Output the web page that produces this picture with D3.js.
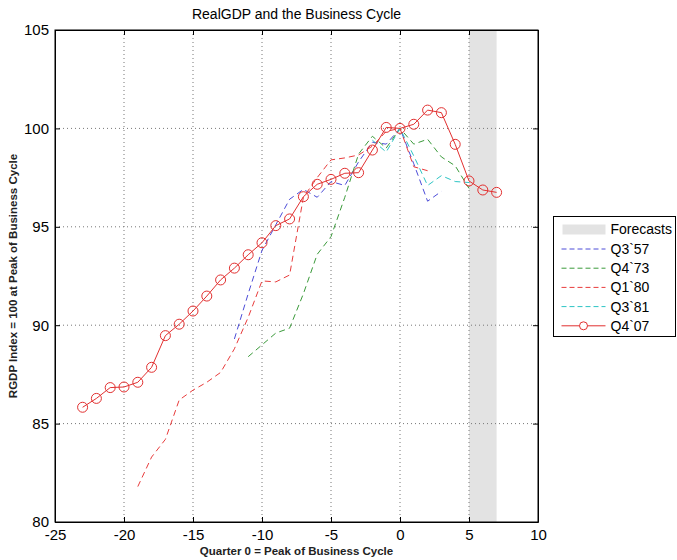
<!DOCTYPE html>
<html>
<head>
<meta charset="utf-8">
<script src="https://cdn.jsdelivr.net/npm/d3@7"></script>
<style>
body { margin: 0; background: #fff; }
text { font-family: "Liberation Sans", Arial, sans-serif; }
</style>
</head>
<body>
<div id="chart-svg"></div>
<script>
// quarters relative to business cycle peak
var q357 = [-12, -11, -10, -9, -8, -7, -6, -5, -4, -3, -2, -1, 0, 1, 2, 3];
var v357 = [89.3, 91.6, 93.8, 95.1, 96.4, 96.9, 96.5, 97.3, 97.1, 98.3, 99.3, 99.2, 100, 98.2, 96.3, 96.8];

var q473 = [-11, -10, -9, -8, -7, -6, -5, -4, -3, -2, -1, 0, 1, 2, 3, 4, 5];
var v473 = [88.4, 89.0, 89.6, 89.85, 91.6, 93.6, 94.5, 96.5, 98.7, 99.6, 99.0, 100, 99.2, 99.45, 98.55, 98.1, 96.95];

var q180 = [-19, -18, -17, -16, -15, -14, -13, -12, -11, -10, -9, -8, -7, -6, -5, -4, -3, -2, -1, 0, 1, 2];
var v180 = [81.8, 83.3, 84.2, 86.2, 86.7, 87.1, 87.6, 88.8, 90.4, 92.25, 92.2, 92.55, 96.5, 97.5, 98.4, 98.5, 98.65, 99.1, 99.85, 100, 98.05, 97.85];

var q381 = [-2, -1, 0, 1, 2, 3, 4, 5];
var v381 = [99.4, 98.8, 100, 98.6, 97.1, 97.6, 97.3, 97.25];

var q407 = [-23, -22, -21, -20, -19, -18, -17, -16, -15, -14, -13, -12, -11, -10, -9, -8, -7, -6, -5, -4, -3, -2, -1, 0, 1, 2, 3, 4, 5, 6, 7];
var v407 = [85.83, 86.28, 86.83, 86.86, 87.1, 87.86, 89.47, 90.05, 90.72, 91.48, 92.3, 92.9, 93.58, 94.19, 95.06, 95.4, 96.53, 97.16, 97.41, 97.72, 97.75, 98.9, 100.05, 100, 100.21, 100.93, 100.8, 99.19, 97.33, 96.87, 96.75];

var forecast = [5, 7];
var xTicks = [-25, -20, -15, -10, -5, 0, 5, 10];
var yTicks = [80, 85, 90, 95, 100, 105];

var series = [
    {name: "Q3`57", q: q357, v: v357, color: "#4c4cd8", dash: true},
    {name: "Q4`73", q: q473, v: v473, color: "#3a9a3a", dash: true},
    {name: "Q1`80", q: q180, v: v180, color: "#e83c3c", dash: true},
    {name: "Q3`81", q: q381, v: v381, color: "#2cc4c4", dash: true},
    {name: "Q4`07", q: q407, v: v407, color: "#e23030", dash: false}
];

var margin = {top: 30, right: 139, bottom: 38, left: 55},
    width = 677 - margin.left - margin.right,
    height = 560 - margin.top - margin.bottom;

var svg = d3.select("#chart-svg").append("svg")
    .attr("width", 677)
    .attr("height", 560)
    .append("g")
    .attr("transform", "translate(" + margin.left + "," + margin.top + ")");

var x = d3.scaleLinear().domain([-25, 10]).range([0, width]);
var y = d3.scaleLinear().domain([80, 105]).range([height, 0]);

// plain hyphen minus like the original
var fmt = function(d) { return String(d); };

// forecast band
svg.append("rect")
    .attr("x", x(forecast[0]))
    .attr("y", 0)
    .attr("width", x(forecast[1]) - x(forecast[0]))
    .attr("height", height)
    .style("fill", "#e3e3e3");

// grid
svg.selectAll(".xgrid")
    .data(xTicks.slice(1, -1))
    .enter().append("line")
    .attr("class", "xgrid")
    .attr("x1", function(d) { return x(d); })
    .attr("x2", function(d) { return x(d); })
    .attr("y1", 0)
    .attr("y2", height)
    .style("stroke", "#777")
    .style("stroke-width", 1)
    .style("stroke-dasharray", "1,3");

svg.selectAll(".ygrid")
    .data(yTicks.slice(1, -1))
    .enter().append("line")
    .attr("class", "ygrid")
    .attr("x1", 0)
    .attr("x2", width)
    .attr("y1", function(d) { return y(d); })
    .attr("y2", function(d) { return y(d); })
    .style("stroke", "#777")
    .style("stroke-width", 1)
    .style("stroke-dasharray", "1,3");

// lines
var line = d3.line()
    .x(function(d) { return x(d[0]); })
    .y(function(d) { return y(d[1]); });

series.forEach(function(s) {
    var pts = s.q.map(function(q, i) { return [q, s.v[i]]; });
    svg.append("path")
        .datum(pts)
        .attr("d", line)
        .style("fill", "none")
        .style("stroke", s.color)
        .style("stroke-width", 1)
        .style("stroke-dasharray", s.dash ? "6,4" : null);
    if (!s.dash) {
        svg.selectAll(".mark")
            .data(pts)
            .enter().append("circle")
            .attr("cx", function(d) { return x(d[0]); })
            .attr("cy", function(d) { return y(d[1]); })
            .attr("r", 5)
            .style("fill", "none")
            .style("stroke", s.color)
            .style("stroke-width", 1);
    }
});

//********** AXES ************
var xAxis = d3.axisBottom(x).tickValues(xTicks).tickFormat(fmt).tickSizeInner(-5).tickSizeOuter(0).tickPadding(7);
var yAxis = d3.axisLeft(y).tickValues(yTicks).tickFormat(fmt).tickSizeInner(-5).tickSizeOuter(0).tickPadding(6);

svg.append("g")
    .attr("class", "x axis")
    .attr("transform", "translate(0," + height + ")")
    .call(xAxis);

svg.append("g")
    .attr("class", "y axis")
    .call(yAxis);

svg.append("g")
    .attr("transform", "translate(0,0)")
    .call(d3.axisTop(x).tickValues(xTicks).tickSizeInner(-5).tickSizeOuter(0).tickFormat(""));

svg.append("g")
    .attr("transform", "translate(" + width + ",0)")
    .call(d3.axisRight(y).tickValues(yTicks).tickSizeInner(-5).tickSizeOuter(0).tickFormat(""));

svg.selectAll(".domain").style("stroke", "#000");
svg.selectAll(".tick line").style("stroke", "#000");
svg.selectAll(".axis text")
    .style("font-size", "15px")
    .style("font-family", "Liberation Sans, Arial, sans-serif")
    .style("fill", "#000");

svg.append("rect")
    .attr("width", width)
    .attr("height", height)
    .style("fill", "none")
    .style("stroke", "#000")
    .style("stroke-width", 1);

// titles
svg.append("text")
    .attr("x", width / 2)
    .attr("y", -11)
    .style("text-anchor", "middle")
    .style("font-size", "14px")
    .text("RealGDP and the Business Cycle");

svg.append("text")
    .attr("x", width / 2)
    .attr("y", height + 33)
    .style("text-anchor", "middle")
    .style("font-size", "11.5px")
    .style("font-weight", "bold")
    .style("fill", "#222")
    .text("Quarter 0 = Peak of Business Cycle");

svg.append("text")
    .attr("transform", "rotate(-90)")
    .attr("x", -height / 2)
    .attr("y", -38)
    .style("text-anchor", "middle")
    .style("font-size", "11.5px")
    .style("font-weight", "bold")
    .style("fill", "#222")
    .text("RGDP Index = 100 at Peak of Business Cycle");

// legend
var lg = d3.select("svg").append("g")
    .attr("transform", "translate(553.5,216.5)");

lg.append("rect")
    .attr("width", 122)
    .attr("height", 120)
    .style("fill", "#fff")
    .style("stroke", "#000");

lg.append("rect")
    .attr("x", 9)
    .attr("y", 8)
    .attr("width", 43)
    .attr("height", 10)
    .style("fill", "#e3e3e3");

lg.append("text")
    .attr("x", 57)
    .attr("y", 13)
    .attr("dy", ".35em")
    .style("font-size", "14px")
    .text("Forecasts");

var legend = lg.selectAll(".legend")
    .data(series)
    .enter().append("g")
    .attr("class", "legend")
    .attr("transform", function(d, i) { return "translate(0," + (32.5 + i * 19.2) + ")"; });

legend.append("line")
    .attr("x1", 8)
    .attr("x2", 52)
    .style("stroke", function(d) { return d.color; })
    .style("stroke-dasharray", function(d) { return d.dash ? "5,3" : null; });

legend.filter(function(d) { return !d.dash; })
    .append("circle")
    .attr("cx", 30)
    .attr("r", 4)
    .style("fill", "#fff")
    .style("stroke", function(d) { return d.color; });

legend.append("text")
    .attr("x", 57)
    .attr("dy", ".35em")
    .style("font-size", "14px")
    .text(function(d) { return d.name; });
</script>
</body>
</html>
